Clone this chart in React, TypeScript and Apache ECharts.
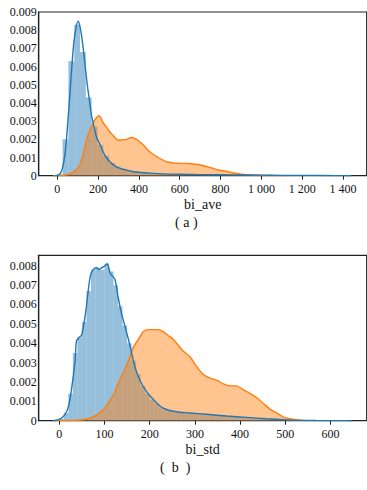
import React, { useEffect, useRef } from "react";
import * as echarts from "echarts";

// ---- (a) bi_ave ----
const aveHistEdges = [0, 26, 54.5, 83, 111.5, 140, 168.5, 197, 225.5, 254, 282.5, 311, 339.5, 368, 396.5, 425, 453.5, 482, 510.5, 539, 567.5, 596, 624.5];
const aveHistValues = [0.0001, 0.002, 0.0063, 0.0083, 0.0068, 0.0043, 0.0027, 0.0017, 0.0011, 0.0007, 0.0005, 0.0004, 0.0003, 0.00025, 0.0002, 0.00018, 0.00015, 0.00013, 0.00011, 0.0001, 0.00009, 0.00008];

const aveBlueX = [-15, 0, 13, 25, 38, 50, 62, 72, 82, 93, 103, 113, 124, 135, 147, 158, 168, 180, 193, 210, 225, 240, 258, 280, 307, 340, 372, 410, 454, 520, 600, 698, 800, 900, 1000, 1100, 1200, 1300, 1440];
const aveBlueY = [0, 0.00002, 0.0001, 0.0004, 0.0012, 0.0027, 0.0045, 0.0061, 0.0074, 0.0082, 0.0085, 0.0081, 0.0073, 0.0062, 0.005, 0.0041, 0.0033, 0.0027, 0.0021, 0.0017, 0.0013, 0.001, 0.00077, 0.00055, 0.0004, 0.0003, 0.00022, 0.00018, 0.00014, 0.0001, 0.00008, 0.00006, 0.00005, 0.00004, 0.00003, 0.00002, 0.00002, 0.00001, 0];

const aveOrangeX = [-20, 30, 62, 90, 111, 128, 144, 156, 168, 180, 193, 203, 213, 225, 240, 258, 275, 291, 307, 323, 340, 364, 389, 405, 421, 454, 495, 535, 568, 600, 633, 665, 698, 731, 764, 796, 836, 862, 894, 926, 958, 1000, 1050, 1140];
const aveOrangeY = [0, 0.00002, 0.0001, 0.0003, 0.0006, 0.0012, 0.002, 0.0024, 0.0027, 0.003, 0.0032, 0.0033, 0.0032, 0.0029, 0.0027, 0.0024, 0.0022, 0.002, 0.00196, 0.00198, 0.002, 0.0021, 0.002, 0.00185, 0.0017, 0.0013, 0.001, 0.00077, 0.0007, 0.00068, 0.00068, 0.00064, 0.0006, 0.0005, 0.0004, 0.0003, 0.00022, 0.00015, 0.0001, 0.00006, 0.00003, 0.00002, 0.00001, 0];

const aveTicks = [0, 200, 400, 600, 800, 1000, 1200, 1400];
const aveTickLabels = ["0", "200", "400", "600", "800", "1 000", "1 200", "1 400"];

// ---- (b) bi_std ----
const stdHistEdges = [0, 10, 20, 30, 40, 50, 60, 70, 80, 90, 100, 110, 120, 130, 140, 150, 160, 170, 180, 190, 200, 210, 220, 230, 240, 250, 260, 270, 280, 290, 300, 310, 320, 330, 340, 350, 360, 370, 380, 390, 400, 410, 420, 430, 440, 450, 460, 470, 480, 490, 500];
const stdHistValues = [0.0001, 0.0004, 0.0014, 0.0035, 0.0043, 0.0051, 0.0067, 0.0078, 0.0079, 0.0078, 0.0081, 0.0077, 0.007, 0.0059, 0.0049, 0.004, 0.0031, 0.0024, 0.0018, 0.0014, 0.0011, 0.0009, 0.0007, 0.0006, 0.0005, 0.00046, 0.00044, 0.00042, 0.0004, 0.00038, 0.00036, 0.00034, 0.00033, 0.00031, 0.0003, 0.00028, 0.00026, 0.00024, 0.00022, 0.0002, 0.00018, 0.00017, 0.00015, 0.00013, 0.00012, 0.0001, 0.00008, 0.00006, 0.00005, 0.00004];

const stdBlueX = [-13, 2, 12, 20, 27, 35, 38, 44, 49, 53, 59, 64, 69, 75, 83, 88, 94, 101, 106, 113, 123, 130, 138, 145, 153, 160, 167, 178, 193, 208, 223, 237, 259, 289, 326, 370, 414, 458, 503, 569, 646];
const stdBlueY = [0, 0.0001, 0.0003, 0.0007, 0.0016, 0.0031, 0.0041, 0.0043, 0.0044, 0.0048, 0.0057, 0.0067, 0.0075, 0.0078, 0.0079, 0.0078, 0.0079, 0.008, 0.0081, 0.0076, 0.0073, 0.0064, 0.0055, 0.0049, 0.0042, 0.0035, 0.0028, 0.0021, 0.0015, 0.0011, 0.00076, 0.00058, 0.00046, 0.0004, 0.00033, 0.00024, 0.00017, 0.0001, 0.00004, 0.00001, 0];

const stdOrangeX = [-13, 38, 64, 83, 97, 108, 119, 130, 142, 153, 164, 175, 186, 197, 208, 219, 230, 241, 252, 263, 274, 289, 304, 318, 333, 348, 363, 377, 392, 407, 422, 436, 451, 466, 481, 495, 510, 532, 554];
const stdOrangeY = [0, 0.00002, 0.0001, 0.0003, 0.00055, 0.0009, 0.0013, 0.0019, 0.0025, 0.0031, 0.0038, 0.0042, 0.0046, 0.0047, 0.0047, 0.0047, 0.0046, 0.0044, 0.0042, 0.0039, 0.0036, 0.0033, 0.0028, 0.0024, 0.0022, 0.0021, 0.0019, 0.0018, 0.0018, 0.0016, 0.0014, 0.0012, 0.0009, 0.0006, 0.0004, 0.0002, 0.0001, 0.00003, 0];

const stdTicks = [0, 100, 200, 300, 400, 500, 600];
const stdTickLabels = ["0", "100", "200", "300", "400", "500", "600"];

const aveYTicks = [0, 0.001, 0.002, 0.003, 0.004, 0.005, 0.006, 0.007, 0.008, 0.009];
const stdYTicks = [0, 0.001, 0.002, 0.003, 0.004, 0.005, 0.006, 0.007, 0.008];

const FONT = "'Liberation Serif', 'DejaVu Serif', serif";
const BLUE = "#1f77b4";
const ORANGE = "#ff7f0e";

function pairs(xs: number[], ys: number[]) {
  return xs.map((x, i) => [x, ys[i]]);
}
function bins(edges: number[], vals: number[]) {
  return vals.map((v, i) => [edges[i], edges[i + 1], v]);
}

const histRender = (params: any, api: any) => {
  const x0 = api.value(0);
  const x1 = api.value(1);
  const v = api.value(2);
  const p0 = api.coord([x0, v]);
  const p1 = api.coord([x1, 0]);
  return {
    type: "rect",
    shape: { x: p0[0], y: p0[1], width: p1[0] - p0[0], height: p1[1] - p0[1] },
    style: { fill: "rgba(31,119,180,0.47)" },
  };
};

function xAxisFor(gridIndex: number, min: number, max: number, ticks: number[], labels: string[], name: string) {
  return {
    type: "value",
    gridIndex,
    min,
    max,
    name,
    nameLocation: "middle",
    nameGap: 22,
    nameTextStyle: { fontFamily: FONT, fontSize: 14, color: "#111" },
    axisLine: { show: true, onZero: false, lineStyle: { color: "#222", width: 1.2 } },
    axisTick: { show: true, length: 4, customValues: ticks, lineStyle: { color: "#222" } },
    axisLabel: {
      customValues: ticks,
      margin: 7,
      fontFamily: FONT,
      fontSize: 12,
      color: "#111",
      formatter: (v: number) => {
        const i = ticks.indexOf(v);
        return i >= 0 ? labels[i] : "";
      },
    },
    splitLine: { show: false },
  };
}

function yAxisFor(gridIndex: number, max: number, ticks: number[]) {
  return {
    type: "value",
    gridIndex,
    min: 0,
    max,
    axisLine: { show: true, onZero: false, lineStyle: { color: "#222", width: 1.2 } },
    axisTick: { show: false, customValues: ticks },
    axisLabel: {
      customValues: ticks,
      margin: 2,
      fontFamily: FONT,
      fontSize: 12,
      color: "#111",
      formatter: (v: number) => (v === 0 ? "0" : v.toFixed(3)),
    },
    splitLine: { show: false },
  };
}

function lineSeries(idx: number, data: number[][], color: string, area: boolean, z: number) {
  return {
    type: "line",
    xAxisIndex: idx,
    yAxisIndex: idx,
    data,
    smooth: 0.3,
    showSymbol: false,
    symbol: "none",
    lineStyle: { color, width: 1.4 },
    areaStyle: area ? { color, opacity: 0.46 } : undefined,
    z,
  };
}

export default function App() {
  const ref = useRef<HTMLDivElement>(null);
  useEffect(() => {
    if (!ref.current) return;
    const chart = echarts.init(ref.current, null, { renderer: "svg" });
    chart.setOption({
      animation: false,
      backgroundColor: "#ffffff",
      grid: [
        { left: 38.7, top: 12, width: 328, height: 163.7, show: true, borderColor: "#222", borderWidth: 1.2 },
        { left: 38.7, top: 255.3, width: 328, height: 165.4, show: true, borderColor: "#222", borderWidth: 1.2 },
      ],
      xAxis: [
        xAxisFor(0, -91, 1516, aveTicks, aveTickLabels, "bi_ave"),
        xAxisFor(1, -45.5, 680, stdTicks, stdTickLabels, "bi_std"),
      ],
      yAxis: [yAxisFor(0, 0.009, aveYTicks), yAxisFor(1, 0.00854, stdYTicks)],
      series: [
        { type: "custom", xAxisIndex: 0, yAxisIndex: 0, renderItem: histRender, data: bins(aveHistEdges, aveHistValues), encode: { x: [0, 1], y: 2 }, z: 1 },
        lineSeries(0, pairs(aveOrangeX, aveOrangeY), ORANGE, true, 2),
        lineSeries(0, pairs(aveBlueX, aveBlueY), BLUE, false, 3),
        { type: "custom", xAxisIndex: 1, yAxisIndex: 1, renderItem: histRender, data: bins(stdHistEdges, stdHistValues), encode: { x: [0, 1], y: 2 }, z: 1 },
        lineSeries(1, pairs(stdOrangeX, stdOrangeY), ORANGE, true, 2),
        lineSeries(1, pairs(stdBlueX, stdBlueY), BLUE, false, 3),
      ],
      graphic: [
        { type: "text", left: 175, top: 215, style: { text: "( a )", font: `14px ${FONT}`, fill: "#111" } },
        { type: "text", left: 160, top: 460, style: { text: "(  b  )", font: `14px ${FONT}`, fill: "#111" } },
      ],
    });
    return () => chart.dispose();
  }, []);
  return (
    <div
      ref={ref}
      style={{ position: "fixed", left: 0, top: 0, width: 367, height: 490, background: "#fff" }}
    />
  );
}
